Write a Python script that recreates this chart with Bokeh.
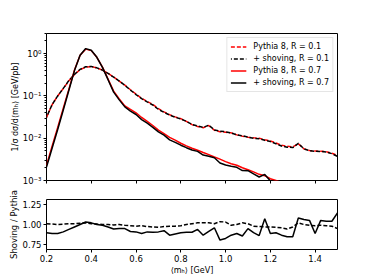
from bokeh.plotting import figure
from bokeh.layouts import column
from bokeh.models import (Range1d, FixedTicker, CustomJSTickFormatter, Legend,
                          LegendItem, NumeralTickFormatter, CustomLabelingPolicy)
from bokeh.embed import file_html
from bokeh.resources import INLINE

# bin centres <m_h> [GeV]
mh = [0.200, 0.225, 0.250, 0.275, 0.300, 0.325, 0.350, 0.375, 0.400, 0.425,
      0.450, 0.475, 0.500, 0.525, 0.550, 0.575, 0.600, 0.625, 0.650, 0.675,
      0.700, 0.725, 0.750, 0.775, 0.800, 0.825, 0.850, 0.875, 0.900, 0.925,
      0.950, 0.975, 1.000, 1.025, 1.050, 1.075, 1.100, 1.125, 1.150, 1.175,
      1.200, 1.225, 1.250, 1.275, 1.300, 1.325, 1.350, 1.375, 1.400, 1.425,
      1.450, 1.475, 1.500]

# Pythia 8, R = 0.1
pythia_r01 = [0.031, 0.062, 0.100, 0.150, 0.230, 0.320, 0.420, 0.480, 0.495, 0.460,
              0.410, 0.340, 0.280, 0.225, 0.180, 0.140, 0.110, 0.088, 0.074, 0.063,
              0.050, 0.042, 0.036, 0.032, 0.029, 0.025, 0.021, 0.019, 0.0177, 0.0200,
              0.0155, 0.0142, 0.0138, 0.0134, 0.0120, 0.0112, 0.0105, 0.0102, 0.0100, 0.0092,
              0.0086, 0.0077, 0.0068, 0.0065, 0.0062, 0.0074, 0.0056, 0.0051, 0.0050, 0.0049,
              0.0048, 0.0044, 0.0039]

# Pythia 8, R = 0.7
pythia_r07 = [0.0023, 0.0065, 0.018, 0.051, 0.145, 0.41, 0.92, 1.28, 1.18, 0.82,
              0.48, 0.25, 0.13, 0.085, 0.058, 0.048, 0.040, 0.031, 0.025, 0.020,
              0.0155, 0.0128, 0.0105, 0.0090, 0.0076, 0.0066, 0.0058, 0.0052, 0.0046, 0.0041,
              0.0036, 0.0032, 0.0028, 0.0025, 0.0023, 0.0020, 0.0018, 0.0016, 0.0014, 0.0013,
              0.0011, 0.0010, 0.00090, 0.00081, 0.00073, 0.00066, 0.00060, 0.00054, 0.00049, 0.00044,
              0.00040, 0.00036, 0.00033]

# Shoving / Pythia ratios
ratio_r01 = [1.01, 1.005, 1.00, 1.005, 1.01, 1.01, 1.015, 1.02, 1.01, 1.005,
             1.00, 1.00, 0.995, 1.00, 0.99, 0.985, 0.98, 0.985, 0.975, 0.97,
             0.965, 0.975, 0.98, 0.98, 0.985, 1.00, 1.01, 1.02, 1.02, 1.02,
             1.01, 1.035, 1.03, 0.99, 1.00, 1.02, 1.01, 0.98, 0.975, 0.97,
             0.97, 0.965, 0.96, 0.945, 0.97, 1.02, 1.00, 0.99, 0.985, 0.99,
             0.985, 0.98, 0.95]

ratio_r07 = [0.90, 0.89, 0.89, 0.91, 0.94, 0.97, 1.00, 1.03, 1.02, 1.00,
             0.99, 0.97, 0.945, 0.95, 0.95, 0.915, 0.91, 0.89, 0.91, 0.905,
             0.91, 0.925, 0.87, 0.885, 0.90, 0.905, 0.905, 0.94, 0.87, 0.915,
             0.96, 0.81, 0.83, 0.87, 0.89, 0.86, 0.95, 0.90, 0.865, 1.07,
             0.89, 0.90, 0.87, 0.85, 0.85, 1.08, 1.06, 1.05, 0.89, 1.05,
             1.04, 1.04, 1.14]

shoving_r01 = [p * r for p, r in zip(pythia_r01, ratio_r01)]
shoving_r07 = [p * r for p, r in zip(pythia_r07, ratio_r07)]

x_ticks = [0.2, 0.4, 0.6, 0.8, 1.0, 1.2, 1.4]
y_ticks_main = [1e-3, 1e-2, 1e-1, 1e0]
y_ticks_ratio = [0.75, 1.00, 1.25]

FONT = "DejaVu Sans"
FS = "8.5px"
RED = "#ff0000"
LW = 1.5


def style(p):
    p.xgrid.visible = False
    p.ygrid.visible = False
    p.outline_line_color = "black"
    p.outline_line_width = 1
    p.background_fill_color = "white"
    p.border_fill_color = "white"
    for ax in p.axis:
        ax.axis_line_color = None
        ax.major_tick_in = 0
        ax.major_tick_out = 3
        ax.minor_tick_in = 0
        ax.minor_tick_out = 2
        ax.major_label_text_font = FONT
        ax.major_label_text_font_size = FS
        ax.major_label_text_color = "black"
        ax.axis_label_text_font = FONT
        ax.axis_label_text_font_size = FS
        ax.axis_label_text_font_style = "normal"
        ax.axis_label_text_color = "black"
        ax.major_label_standoff = 2
        ax.axis_label_standoff = 3


p1 = figure(frame_width=291, frame_height=147, y_axis_type="log", title=None,
            x_range=Range1d(0.2, 1.5), y_range=Range1d(1e-3, 3.0),
            output_backend="svg", toolbar_location=None,
            min_border_left=46, min_border_right=30,
            min_border_top=33, min_border_bottom=8)
style(p1)

l1 = p1.line(mh, pythia_r01, line_color=RED, line_width=LW, line_dash="4 2")
l2 = p1.line(mh, shoving_r01, line_color="black", line_width=LW, line_dash="4 2",
             line_dash_offset=3)
l3 = p1.line(mh, pythia_r07, line_color=RED, line_width=LW)
l4 = p1.line(mh, shoving_r07, line_color="black", line_width=LW)

p1.xaxis.ticker = FixedTicker(ticks=x_ticks)
p1.xaxis.major_label_text_font_size = "1px"
p1.xaxis.major_label_standoff = 0
p1.xaxis.major_label_policy = CustomLabelingPolicy(code="""
for (let i = 0; i < indices.size; i++) { indices.unset(i) }
return indices
""")
p1.xaxis.minor_tick_line_color = None
minor_log = [m * d for d in [1e-3, 1e-2, 1e-1, 1e0] for m in range(2, 10)]
p1.yaxis.ticker = FixedTicker(ticks=y_ticks_main, minor_ticks=minor_log)
p1.yaxis.formatter = CustomJSTickFormatter(code="""
const e = Math.round(Math.log10(tick));
const sup = {'-':'\u207b','0':'\u2070','1':'\u00b9','2':'\u00b2','3':'\u00b3',
             '4':'\u2074','5':'\u2075','6':'\u2076','7':'\u2077','8':'\u2078','9':'\u2079'};
return '10' + String(e).split('').map(c => sup[c]).join('');
""")
p1.yaxis.axis_label = "1/σ dσ/d⟨mₕ⟩ [GeV/pb]"
p1.yaxis.axis_label_standoff = 0
p1.yaxis.axis_label_text_font_size = "8px"

legend = Legend(items=[
    LegendItem(label="Pythia 8, R = 0.1", renderers=[l1]),
    LegendItem(label="+ shoving, R = 0.1", renderers=[l2]),
    LegendItem(label="Pythia 8, R = 0.7", renderers=[l3]),
    LegendItem(label="+ shoving, R = 0.7", renderers=[l4]),
], location="top_right")
legend.margin = 4
legend.padding = 3
legend.spacing = 1
legend.label_height = 11
legend.glyph_height = 11
legend.glyph_width = 16
legend.label_standoff = 7
legend.label_text_font = FONT
legend.label_text_font_size = "8px"
legend.label_text_color = "black"
legend.border_line_color = "#cccccc"
legend.border_line_width = 1
legend.background_fill_alpha = 0.8
p1.add_layout(legend)

p2 = figure(frame_width=291, frame_height=50, title=None,
            x_range=p1.x_range, y_range=Range1d(0.695, 1.305),
            output_backend="svg", toolbar_location=None,
            min_border_left=46, min_border_right=30,
            min_border_top=11, min_border_bottom=0)
style(p2)
p2.line(mh, ratio_r01, line_color="black", line_width=LW, line_dash="4 2")
p2.line(mh, ratio_r07, line_color="black", line_width=LW)
p2.xaxis.ticker = FixedTicker(ticks=x_ticks)
p2.xaxis.formatter = NumeralTickFormatter(format="0.0")
p2.xaxis.minor_tick_line_color = None
p2.yaxis.ticker = FixedTicker(ticks=y_ticks_ratio)
p2.yaxis.formatter = NumeralTickFormatter(format="0.00")
p2.yaxis.minor_tick_line_color = None
p2.xaxis.axis_label = "⟨mₕ⟩ [GeV]"
p2.yaxis.axis_label = "Shoving / Pythia"
p2.yaxis.axis_label_standoff = 1
p2.xaxis.axis_label_standoff = 1
p2.xaxis.axis_label_text_font_size = "8px"

layout = column(p1, p2, spacing=0)
open("out.html", "w").write(file_html(layout, INLINE))
